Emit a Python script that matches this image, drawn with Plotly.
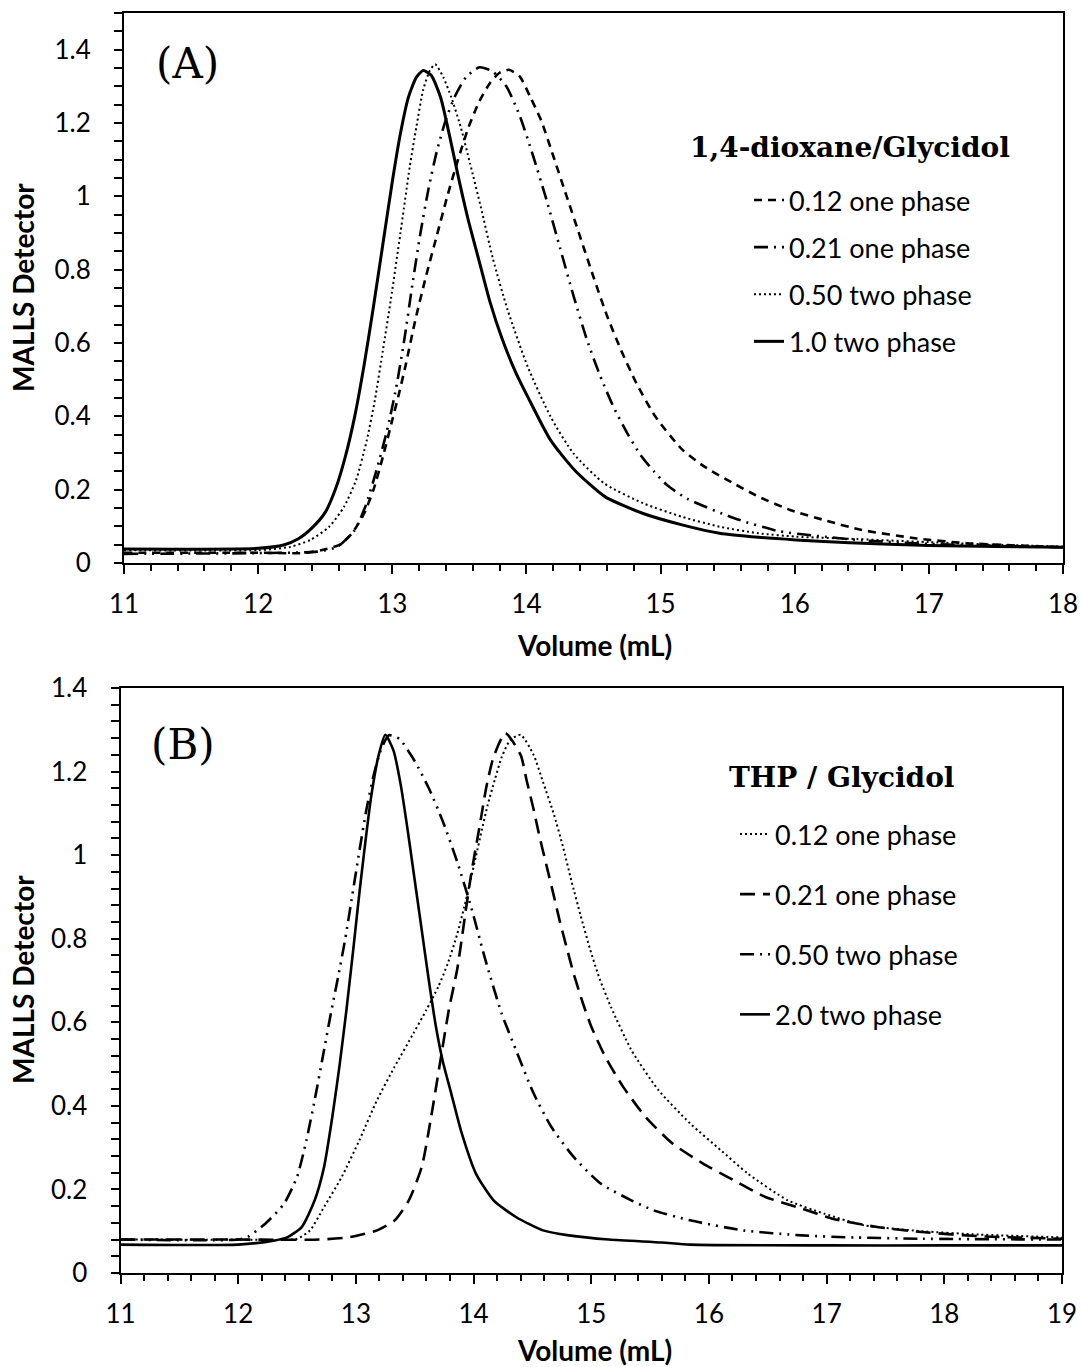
import plotly.graph_objects as go

# ---------------- Panel A : 1,4-dioxane/Glycidol ----------------
a012_x = [11.0, 12.0, 12.33, 12.47, 12.61, 12.70, 12.79, 12.86, 12.93, 13.00, 13.05, 13.10, 13.17, 13.25, 13.33,
          13.41, 13.49, 13.57, 13.65, 13.73, 13.80, 13.87, 13.95, 14.03, 14.11, 14.20, 14.30, 14.40, 14.50, 14.60,
          14.70, 14.82, 14.96, 15.16, 15.33, 15.53, 15.73, 15.97, 16.24, 16.50, 16.91, 17.28, 18.0]
a012_y = [0.028, 0.028, 0.027, 0.035, 0.05, 0.081, 0.135, 0.20, 0.29, 0.39, 0.462, 0.54, 0.66, 0.78, 0.89,
          1.0, 1.10, 1.19, 1.26, 1.31, 1.337, 1.345, 1.327, 1.27, 1.207, 1.11, 1.0, 0.89, 0.78, 0.675,
          0.585, 0.49, 0.40, 0.31, 0.262, 0.22, 0.181, 0.144, 0.115, 0.09, 0.067, 0.054, 0.043]

a021_x = [11.0, 12.0, 12.44, 12.59, 12.72, 12.80, 12.88, 12.96, 13.03, 13.09, 13.15, 13.21, 13.27, 13.33, 13.40,
          13.47, 13.55, 13.65, 13.75, 13.85, 13.95, 14.05, 14.15, 14.25, 14.35, 14.45, 14.55, 14.65, 14.75, 14.85,
          14.95, 15.05, 15.20, 15.55, 15.88, 16.16, 16.50, 17.0, 17.5, 18.0]
a021_y = [0.025, 0.027, 0.031, 0.044, 0.09, 0.155, 0.25, 0.36, 0.48, 0.61, 0.76, 0.90, 1.02, 1.12, 1.21,
          1.275, 1.325, 1.352, 1.34, 1.30, 1.22, 1.11, 0.99, 0.86, 0.73, 0.61, 0.51, 0.425, 0.355, 0.295,
          0.25, 0.212, 0.175, 0.122, 0.087, 0.074, 0.062, 0.052, 0.047, 0.043]

a050_x = [11.0, 12.0, 12.24, 12.39, 12.53, 12.64, 12.73, 12.81, 12.87, 12.93, 12.99, 13.06, 13.13, 13.18, 13.23,
          13.28, 13.32, 13.38, 13.44, 13.51, 13.58, 13.66, 13.75, 13.86, 14.01, 14.18, 14.35, 14.58, 14.87, 15.16,
          15.44, 15.73, 16.01, 16.41, 17.0, 17.5, 18.0]
a050_y = [0.035, 0.035, 0.044, 0.063, 0.099, 0.153, 0.226, 0.335, 0.444, 0.58, 0.72, 0.898, 1.08, 1.19, 1.29,
          1.343, 1.36, 1.325, 1.27, 1.189, 1.089, 0.971, 0.83, 0.69, 0.535, 0.399, 0.299, 0.217, 0.163, 0.126,
          0.099, 0.081, 0.072, 0.066, 0.057, 0.05, 0.045]

a100_x = [11.0, 12.0, 12.19, 12.30, 12.40, 12.50, 12.58, 12.65, 12.72, 12.79, 12.86, 12.93, 13.00, 13.06, 13.12,
          13.18, 13.23, 13.29, 13.36, 13.43, 13.50, 13.57, 13.65, 13.73, 13.82, 13.92, 14.01, 14.18, 14.36, 14.585,
          14.87, 15.16, 15.44, 15.73, 16.01, 16.41, 17.0, 17.5, 18.0]
a100_y = [0.038, 0.04, 0.049, 0.066, 0.095, 0.138, 0.205, 0.29, 0.40, 0.54, 0.70, 0.87, 1.04, 1.17, 1.27,
          1.325, 1.343, 1.33, 1.27, 1.16, 1.04, 0.93, 0.82, 0.71, 0.61, 0.52, 0.453, 0.335, 0.253, 0.181,
          0.135, 0.104, 0.081, 0.07, 0.063, 0.055, 0.048, 0.045, 0.043]

a_names = ["0.12 one phase", "0.21 one phase", "0.50 two phase", "1.0 two phase"]

# ---------------- Panel B : THP / Glycidol ----------------
b012_x = [11.0, 12.0, 12.50, 12.61, 12.73, 12.88, 13.03, 13.18, 13.33, 13.49, 13.60, 13.70, 13.78, 13.86, 13.92,
          13.97, 14.02, 14.07, 14.12, 14.18, 14.24, 14.31, 14.40, 14.51, 14.59, 14.68, 14.76, 14.83, 14.91, 14.99,
          15.07, 15.17, 15.34, 15.57, 15.84, 16.10, 16.33, 16.67, 16.98, 17.32, 17.81, 18.3, 19.0]
b012_y = [0.08, 0.08, 0.082, 0.102, 0.158, 0.23, 0.318, 0.414, 0.494, 0.574, 0.63, 0.685, 0.74, 0.81, 0.875,
          0.935, 0.997, 1.06, 1.12, 1.18, 1.235, 1.275, 1.288, 1.24, 1.175, 1.1, 1.02, 0.94, 0.855, 0.775,
          0.705, 0.635, 0.534, 0.438, 0.358, 0.294, 0.238, 0.174, 0.142, 0.114, 0.100, 0.092, 0.085]

b021_x = [11.0, 12.0, 12.69, 12.95, 13.18, 13.33, 13.45, 13.56, 13.64, 13.71, 13.79, 13.86, 13.90, 13.94, 13.98,
          14.03, 14.07, 14.11, 14.17, 14.27, 14.40, 14.45, 14.51, 14.56, 14.62, 14.68, 14.73, 14.79, 14.85, 14.93,
          15.0, 15.12, 15.27, 15.46, 15.69, 15.95, 16.21, 16.48, 16.79, 17.05, 17.43, 17.81, 18.3, 19.0]
b021_y = [0.08, 0.08, 0.08, 0.086, 0.102, 0.126, 0.174, 0.254, 0.374, 0.494, 0.63, 0.725, 0.80, 0.88, 0.955,
          1.035, 1.10, 1.165, 1.235, 1.292, 1.24, 1.18, 1.11, 1.045, 0.975, 0.905, 0.845, 0.78, 0.717, 0.645,
          0.59, 0.517, 0.446, 0.374, 0.31, 0.262, 0.222, 0.182, 0.154, 0.13, 0.11, 0.098, 0.088, 0.082]

b050_x = [11.0, 12.0, 12.08, 12.23, 12.39, 12.50, 12.58, 12.65, 12.73, 12.79, 12.85, 12.91, 12.97, 13.03, 13.09,
          13.15, 13.21, 13.28, 13.37, 13.50, 13.62, 13.74, 13.86, 13.98, 14.10, 14.24, 14.36, 14.51, 14.66, 14.85,
          15.08, 15.34, 15.53, 15.84, 16.29, 16.79, 17.24, 17.81, 19.0]
b050_y = [0.08, 0.08, 0.086, 0.118, 0.166, 0.23, 0.318, 0.414, 0.534, 0.625, 0.71, 0.80, 0.905, 1.01, 1.11,
          1.19, 1.25, 1.287, 1.278, 1.225, 1.16, 1.08, 0.985, 0.875, 0.75, 0.62, 0.534, 0.43, 0.35, 0.278,
          0.214, 0.174, 0.15, 0.126, 0.102, 0.09, 0.085, 0.082, 0.08]

b200_x = [11.0, 12.0, 12.31, 12.42, 12.54, 12.65, 12.73, 12.80, 12.86, 12.92, 12.98, 13.03, 13.08, 13.13, 13.19,
          13.25, 13.32, 13.38, 13.44, 13.50, 13.56, 13.62, 13.68, 13.74, 13.81, 13.90, 14.02, 14.17, 14.36, 14.59,
          14.81, 15.15, 15.60, 15.84, 17.0, 18.0, 19.0]
b200_y = [0.068, 0.068, 0.078, 0.086, 0.11, 0.174, 0.254, 0.374, 0.494, 0.63, 0.78, 0.91, 1.03, 1.14, 1.235,
          1.288, 1.25, 1.17, 1.06, 0.94, 0.82, 0.70, 0.59, 0.505, 0.43, 0.334, 0.238, 0.174, 0.134, 0.102,
          0.09, 0.08, 0.073, 0.068, 0.066, 0.066, 0.066]

b_names = ["0.12 one phase", "0.21 one phase", "0.50 two phase", "2.0 two phase"]

W, H = 1081, 1367
SANS = "Lato, 'Open Sans', sans-serif"
SERIF = "'DejaVu Serif', 'Liberation Serif', serif"

DASH = "8px,6px"
DASHDOTDOT = "14px,6px,2px,6px,2px,6px"
DOT = "2px,3px"
LONGDASH = "15px,8px"

fig = go.Figure()

a_series = [(a012_x, a012_y, DASH, 2.6), (a021_x, a021_y, DASHDOTDOT, 2.6),
            (a050_x, a050_y, DOT, 2.0), (a100_x, a100_y, "solid", 3.0)]
for i, ((xs, ys, dash, w), nm) in enumerate(zip(a_series, a_names)):
    fig.add_trace(go.Scatter(x=xs, y=ys, mode="lines", name=nm, xaxis="x", yaxis="y",
                             line=dict(color="black", width=w, dash=dash, shape="spline", smoothing=0.6),
                             legend="legend", legendgroup="a%d" % i))

b_series = [(b012_x, b012_y, DOT, 2.0), (b021_x, b021_y, LONGDASH, 2.6),
            (b050_x, b050_y, DASHDOTDOT, 2.6), (b200_x, b200_y, "solid", 2.6)]
for i, ((xs, ys, dash, w), nm) in enumerate(zip(b_series, b_names)):
    fig.add_trace(go.Scatter(x=xs, y=ys, mode="lines", name=nm, xaxis="x2", yaxis="y2",
                             line=dict(color="black", width=w, dash=dash, shape="spline", smoothing=0.6),
                             legend="legend2", legendgroup="b%d" % i))

def px_x(p):
    return p / W

def px_y(p):
    return 1 - p / H

tickfont = dict(family=SANS, size=26, color="black")

common_axis = dict(showline=True, linecolor="black", linewidth=2, mirror=True, showgrid=False,
                   zeroline=False, ticks="outside", tickcolor="black", tickwidth=2, tickfont=tickfont,
                   automargin=False, ticklabeloverflow="allow")

fig.update_layout(
    width=W, height=H, margin=dict(l=0, r=0, t=0, b=0),
    paper_bgcolor="white", plot_bgcolor="white",
    xaxis=dict(common_axis, domain=[px_x(124), px_x(1063)], range=[11, 18], dtick=1, ticklen=9,
               anchor="y", ticklabelstandoff=8,
               minor=dict(dtick=0.2, ticks="outside", ticklen=6, tickcolor="black", tickwidth=2)),
    yaxis=dict(common_axis, domain=[px_y(563), px_y(13)], range=[0, 1.5], dtick=0.2, ticklen=8,
               anchor="x", ticklabelstandoff=18,
               minor=dict(dtick=0.05, ticks="outside", ticklen=8, tickcolor="black", tickwidth=2)),
    xaxis2=dict(common_axis, domain=[px_x(120.5), px_x(1062)], range=[11, 19], dtick=1, ticklen=9,
                anchor="y2", ticklabelstandoff=8,
                minor=dict(dtick=0.2, ticks="outside", ticklen=6, tickcolor="black", tickwidth=2)),
    yaxis2=dict(common_axis, domain=[px_y(1273), px_y(688)], range=[0, 1.4], dtick=0.2, ticklen=8,
                anchor="x2", ticklabelstandoff=18,
                minor=dict(dtick=0.04, ticks="outside", ticklen=8, tickcolor="black", tickwidth=2)),
    legend=dict(x=px_x(749), y=px_y(176), xanchor="left", yanchor="top", bgcolor="rgba(0,0,0,0)",
                font=dict(family=SANS, size=27, color="black"), traceorder="grouped", tracegroupgap=9),
    legend2=dict(x=px_x(735), y=px_y(810), xanchor="left", yanchor="top", bgcolor="rgba(0,0,0,0)",
                 font=dict(family=SANS, size=27, color="black"), traceorder="grouped", tracegroupgap=22),
    showlegend=True,
)

ann = []
title_font = dict(family=SANS, size=28, color="black", weight="bold")
for (xc, yc) in [(23, 288), (23, 980)]:
    ann.append(dict(text="MALLS Detector", x=px_x(xc), y=px_y(yc), xref="paper", yref="paper",
                    showarrow=False, textangle=-90, font=title_font, xanchor="center", yanchor="middle"))
for (xc, yc) in [(594, 645), (594, 1350)]:
    ann.append(dict(text="Volume (mL)", x=px_x(xc), y=px_y(yc), xref="paper", yref="paper",
                    showarrow=False, font=title_font, xanchor="center", yanchor="middle"))
panel_font = dict(family=SERIF, size=42, color="black")
ann.append(dict(text="(A)", x=px_x(187), y=px_y(64), xref="paper", yref="paper", showarrow=False,
                font=panel_font, xanchor="center", yanchor="middle"))
ann.append(dict(text="(B)", x=px_x(183), y=px_y(744), xref="paper", yref="paper", showarrow=False,
                font=panel_font, xanchor="center", yanchor="middle"))
leg_title_font = dict(family=SERIF, size=28, color="black", weight="bold")
ann.append(dict(text="1,4-dioxane/Glycidol", x=px_x(850), y=px_y(147), xref="paper", yref="paper",
                showarrow=False, font=leg_title_font, xanchor="center", yanchor="middle"))
ann.append(dict(text="THP / Glycidol", x=px_x(841), y=px_y(777), xref="paper", yref="paper",
                showarrow=False, font=leg_title_font, xanchor="center", yanchor="middle"))
fig.update_layout(annotations=ann)

fig.write_html("out.html", config={"displayModeBar": False},
               post_script="document.body.style.margin='0px';document.body.style.overflow='hidden';")
